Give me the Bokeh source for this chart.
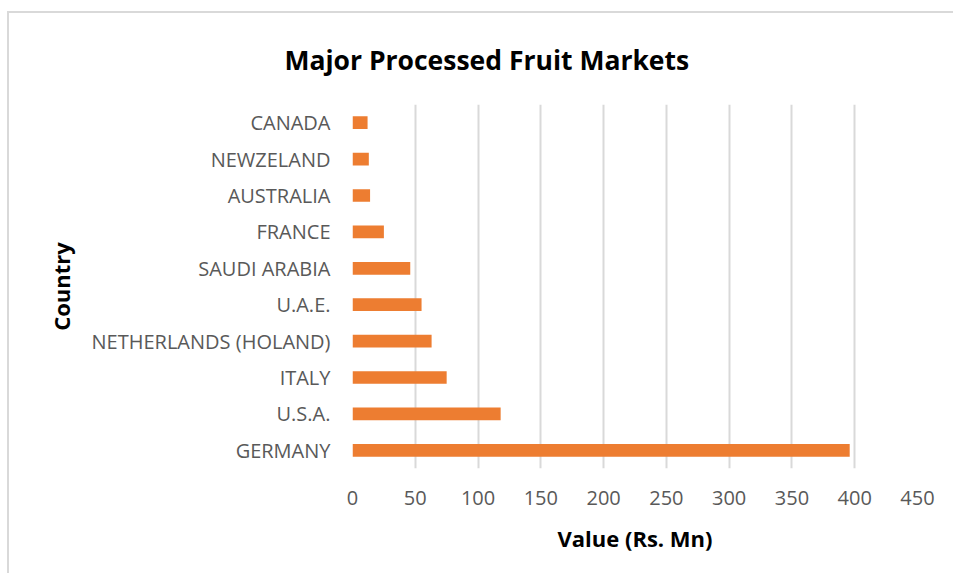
from bokeh.plotting import figure
from bokeh.models import ColumnDataSource, FixedTicker
from bokeh.embed import file_html
from bokeh.resources import INLINE

countries = ["GERMANY", "U.S.A.", "ITALY", "NETHERLANDS (HOLAND)", "U.A.E.",
             "SAUDI ARABIA", "FRANCE", "AUSTRALIA", "NEWZELAND", "CANADA"]
values = [396, 118, 75, 63, 55, 46, 25, 14, 13, 12]
x_ticks = [0, 50, 100, 150, 200, 250, 300, 350, 400, 450]

src = ColumnDataSource(dict(country=countries, value=values))

W, H = 946, 562
p = figure(y_range=countries, x_range=(0, 450), width=W, height=H,
           output_backend="svg", toolbar_location=None,
           title="Major Processed Fruit Markets",
           min_border_left=343, min_border_right=W - 343 - 565,
           min_border_top=91, min_border_bottom=H - 91 - 364)
p.margin = (11, 0, 0, 7)
p.styles = {"border-left": "2px solid #d9d9d9", "border-top": "2px solid #d9d9d9"}
p.hbar(y="country", right="value", left=0, height=0.35, source=src,
       color="#ED7D31", line_color=None)

p.title.align = "left"
p.title.offset = -68
p.title.standoff = 53
p.title.vertical_align = "bottom"
p.title.text_font = "Open Sans"
p.title.text_font_style = "bold"
p.title.text_font_size = "26.5px"
p.title.text_color = "black"

p.outline_line_color = None
p.background_fill_color = "white"
p.border_fill_color = "white"

p.xaxis.ticker = FixedTicker(ticks=x_ticks)
p.xgrid.ticker = FixedTicker(ticks=x_ticks)
p.xgrid.grid_line_color = "#d9d9d9"
p.xgrid.grid_line_width = 2
p.ygrid.grid_line_color = None

for ax in (p.xaxis, p.yaxis):
    ax.axis_line_color = None
    ax.major_tick_line_color = None
    ax.minor_tick_line_color = None
    ax.major_label_text_font = "Open Sans"
    ax.major_label_text_font_size = "20px"
    ax.major_label_text_color = "#595959"
    ax.axis_label_text_font = "Open Sans"
    ax.axis_label_text_font_style = "bold"
    ax.axis_label_text_font_size = "22px"
    ax.axis_label_text_color = "black"

p.xaxis.axis_label = "Value (Rs. Mn)"
p.yaxis.axis_label = "Country"
p.xaxis.major_label_standoff = 16
p.yaxis.major_label_standoff = 16
p.xaxis.axis_label_standoff = 15
p.yaxis.axis_label_standoff = 13

open("out.html", "w").write(file_html(p, INLINE))
